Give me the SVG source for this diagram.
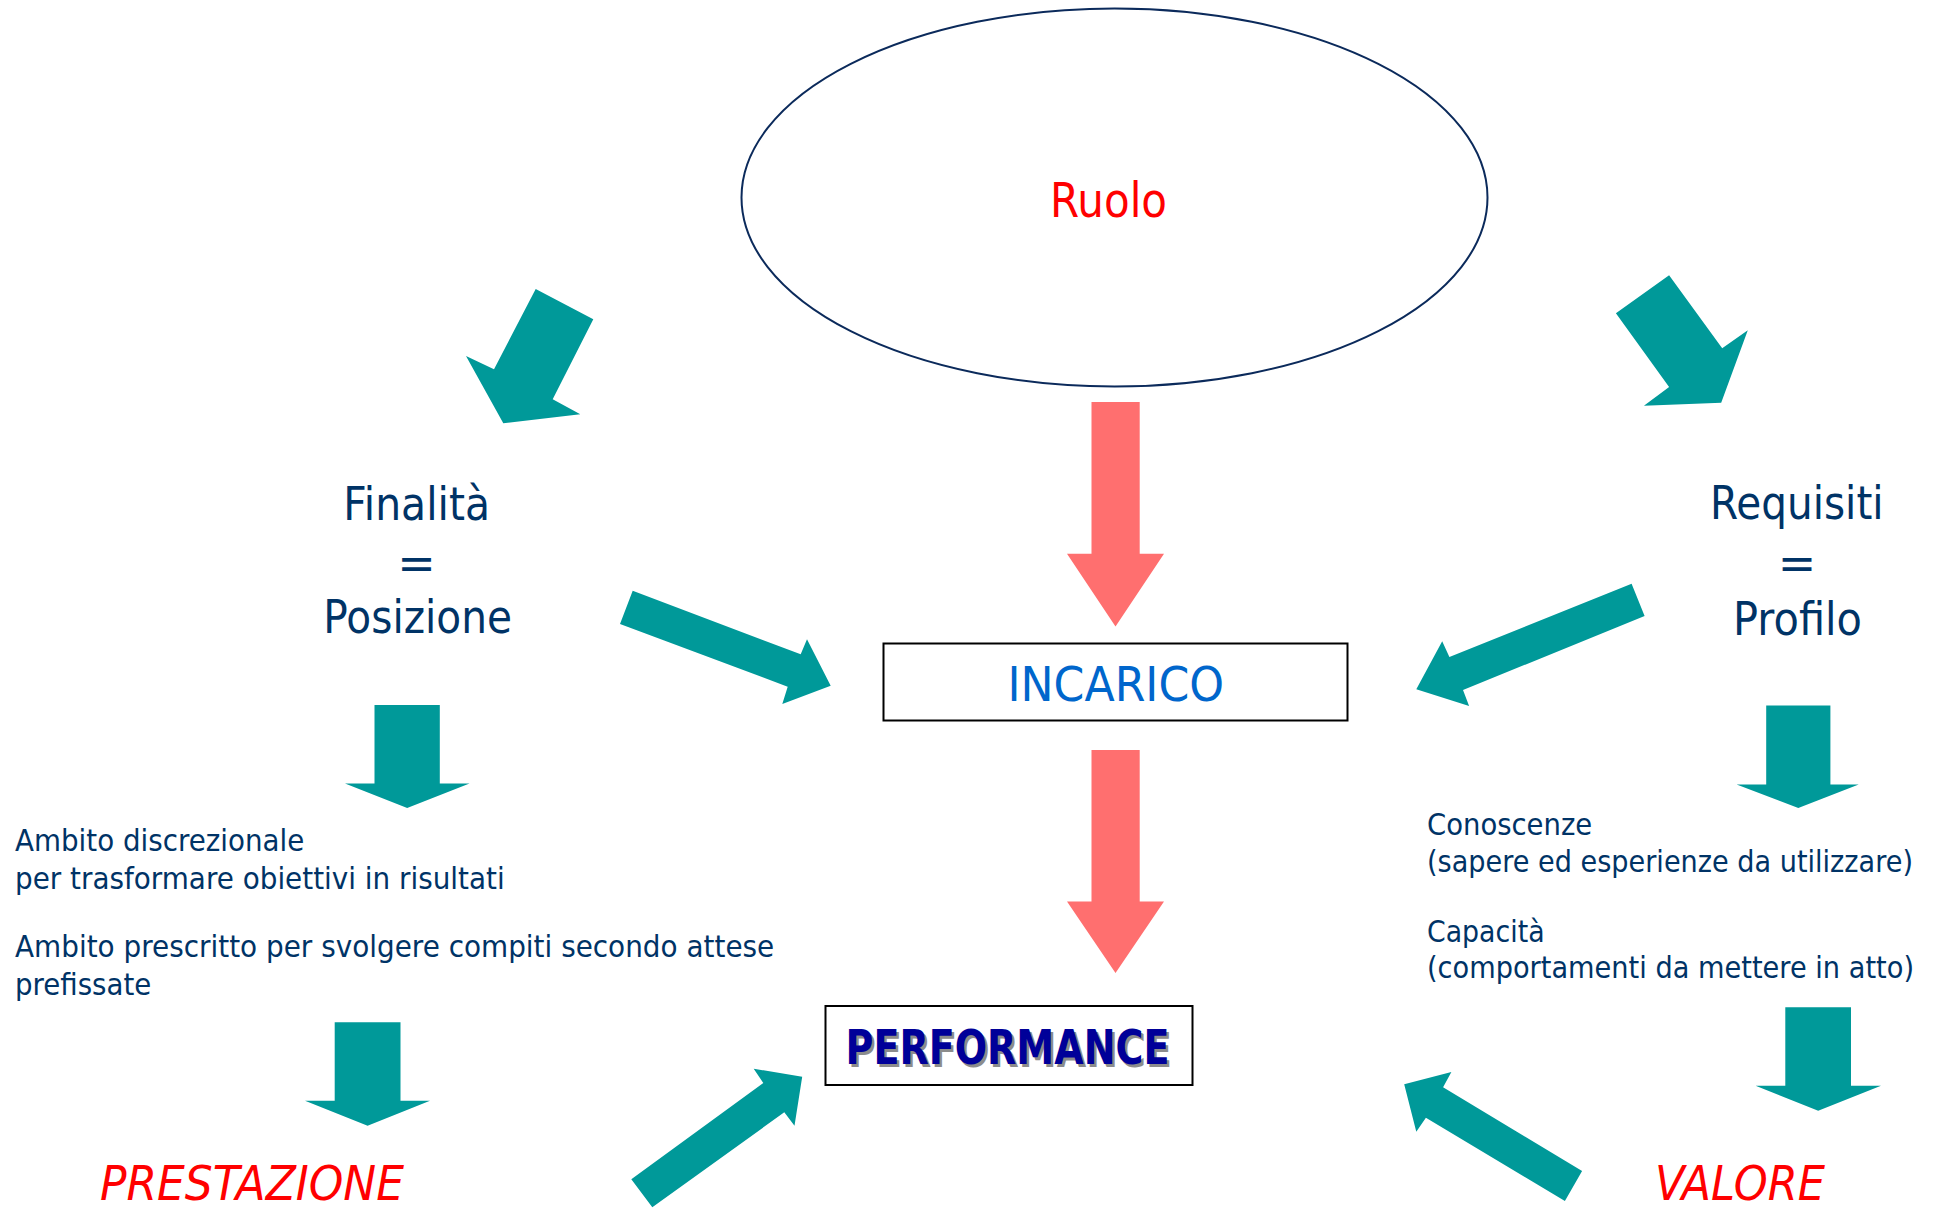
<svg xmlns="http://www.w3.org/2000/svg" width="1934" height="1210" viewBox="0 0 1934 1210">
<style>
text{font-family:"DejaVu Sans","Liberation Sans",sans-serif}
.navy{fill:#003366}
.big{font-size:46px}
.small{font-size:30px}
.red{fill:#FF0000}
.teal{fill:#009999}
.pink{fill:#FF6F6F}
.box{fill:#FFFFFF;stroke:#000000;stroke-width:2}
</style>
<rect width="1934" height="1210" fill="#FFFFFF"/>
<g id="connectors">
  <polygon class="teal" points="535.7,289 593.3,319.3 552.7,399.3 580.3,414.3 503.3,423.3 466,356 494,369.3"/>
  <polygon class="teal" points="1615.9,313.3 1669.1,275.3 1722.2,348.3 1747.8,330.3 1721.2,402.7 1643.9,405.7 1669.1,387"/>
  <polygon class="pink" points="1091.5,402 1139.7,402 1139.7,553.8 1164,553.8 1115.5,626.5 1067,553.8 1091.5,553.8"/>
  <polygon class="teal" points="632.7,590.7 800.7,654.3 807,639.3 830.7,685.7 782.3,704 787.7,686.7 620,624"/>
  <polygon class="teal" points="1631.6,583.7 1644.6,616 1463,690 1469.1,706 1416.3,689.3 1442.2,641.3 1449.4,657"/>
  <polygon class="teal" points="374.5,705 439.8,705 439.8,783.5 469.5,783.5 407.2,808 345,783.5 374.5,783.5"/>
  <polygon class="teal" points="1766.2,705.5 1830.4,705.5 1830.4,784.4 1858.7,784.4 1798.3,807.9 1736.6,784.4 1766.2,784.4"/>
  <polygon class="pink" points="1091.5,750 1139.7,750 1139.7,901.6 1164,901.6 1115.5,973 1067,901.6 1091.5,901.6"/>
  <polygon class="teal" points="334.7,1022.3 400.5,1022.3 400.5,1100.7 430,1100.7 367.6,1125.7 305,1100.7 334.7,1100.7"/>
  <polygon class="teal" points="1785.3,1007.3 1851,1007.3 1851,1085.7 1881,1085.7 1818.2,1110.7 1755.6,1085.7 1785.3,1085.7"/>
  <polygon class="teal" points="631.3,1179.3 763.3,1083 753.7,1068.7 802.2,1076.7 794.5,1125.7 784.3,1112.3 652.3,1207.3"/>
  <polygon class="teal" points="1582.1,1171 1443.1,1087.3 1451.4,1072 1404.2,1084.3 1416.3,1131.7 1425.9,1117.7 1564.9,1201"/>
</g>
<g id="ruolo">
  <ellipse cx="1114.5" cy="197.5" rx="373" ry="189" fill="#FFFFFF" stroke="#0B2A5B" stroke-width="2"/>
  <text x="1050" y="216.7" font-size="48" class="red" textLength="117" lengthAdjust="spacingAndGlyphs">Ruolo</text>
</g>
<g id="finalita">
  <text x="343.3" y="520" class="navy big" textLength="146.7" lengthAdjust="spacingAndGlyphs">Finalità</text>
  <text x="416.5" y="579" class="navy big" text-anchor="middle">=</text>
  <text x="323.3" y="633.3" class="navy big" textLength="188.7" lengthAdjust="spacingAndGlyphs">Posizione</text>
</g>
<g id="requisiti">
  <text x="1709.9" y="519.3" class="navy big" textLength="173.7" lengthAdjust="spacingAndGlyphs">Requisiti</text>
  <text x="1797" y="579" class="navy big" text-anchor="middle">=</text>
  <text x="1733" y="635" class="navy big" textLength="129" lengthAdjust="spacingAndGlyphs">Profilo</text>
</g>
<g id="incarico">
  <rect class="box" x="883.5" y="643.5" width="464" height="77"/>
  <text x="1007.5" y="701" font-size="48" fill="#0066CC" textLength="216.5" lengthAdjust="spacingAndGlyphs">INCARICO</text>
</g>
<g id="performance">
  <rect class="box" x="825.5" y="1006" width="367" height="79"/>
  <text x="848" y="1066.5" font-size="48" font-weight="bold" fill="#8C8C8C" textLength="324" lengthAdjust="spacingAndGlyphs">PERFORMANCE</text>
  <text x="845.5" y="1064" font-size="48" font-weight="bold" fill="#000099" textLength="324" lengthAdjust="spacingAndGlyphs">PERFORMANCE</text>
</g>
<g id="ambiti">
  <text x="15" y="851" class="navy small" textLength="289.3" lengthAdjust="spacingAndGlyphs">Ambito discrezionale</text>
  <text x="15" y="889.3" class="navy small" textLength="489.7" lengthAdjust="spacingAndGlyphs">per trasformare obiettivi in risultati</text>
  <text x="15" y="956.7" class="navy small" textLength="759.2" lengthAdjust="spacingAndGlyphs">Ambito prescritto per svolgere compiti secondo attese</text>
  <text x="15" y="995" class="navy small" textLength="136.2" lengthAdjust="spacingAndGlyphs">prefissate</text>
</g>
<g id="conoscenze">
  <text x="1427" y="835" class="navy small" textLength="165.2" lengthAdjust="spacingAndGlyphs">Conoscenze</text>
  <text x="1427" y="871.7" class="navy small" font-size="29" textLength="486" lengthAdjust="spacingAndGlyphs">(sapere ed esperienze da utilizzare)</text>
  <text x="1427" y="941.7" class="navy small" textLength="117.6" lengthAdjust="spacingAndGlyphs">Capacità</text>
  <text x="1427" y="978.3" class="navy small" font-size="29" textLength="487" lengthAdjust="spacingAndGlyphs">(comportamenti da mettere in atto)</text>
</g>
<g id="prestazione">
  <text x="100" y="1200" font-size="48" font-style="italic" class="red" textLength="304" lengthAdjust="spacingAndGlyphs">PRESTAZIONE</text>
</g>
<g id="valore">
  <text x="1655" y="1200" font-size="48" font-style="italic" class="red" textLength="170" lengthAdjust="spacingAndGlyphs">VALORE</text>
</g>
</svg>
